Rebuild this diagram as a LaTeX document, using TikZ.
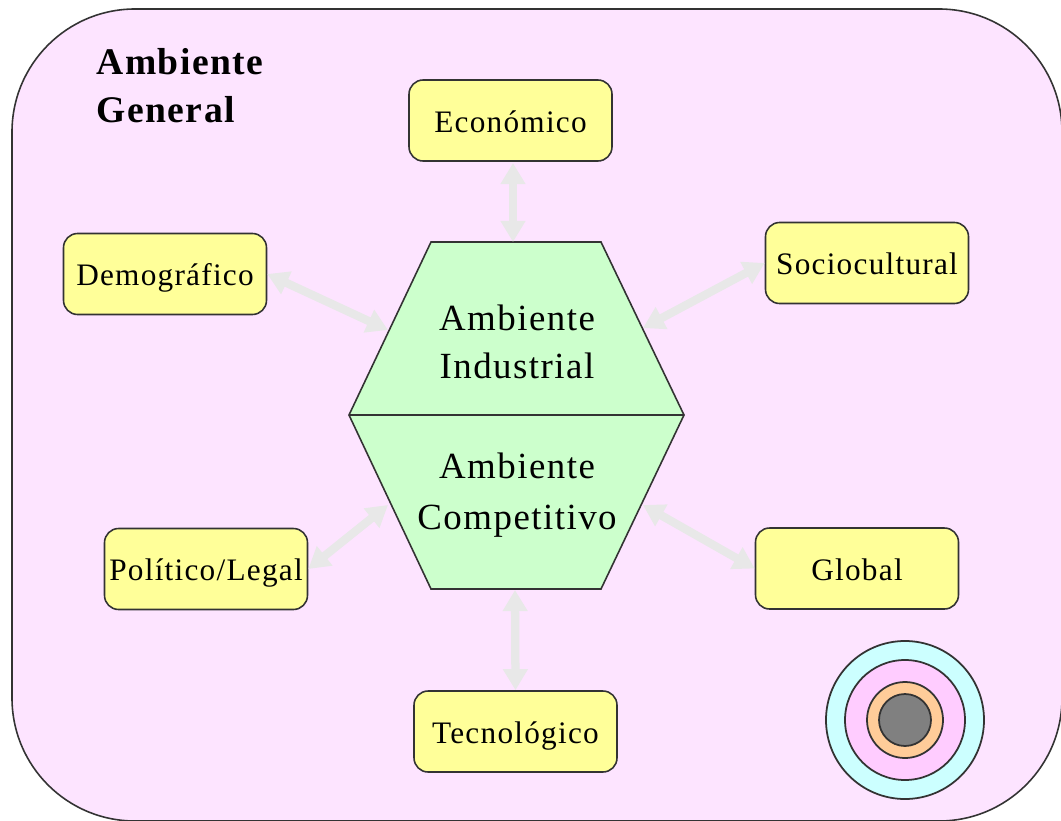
\documentclass[tikz,border=0pt]{standalone}
\usepackage{fontspec}
\setmainfont{Liberation Serif}
\newfontfamily\spacedfont[LetterSpace=4]{Liberation Serif}
\usetikzlibrary{arrows.meta}
\definecolor{fundo}{HTML}{FDE4FF}
\definecolor{amarelo}{HTML}{FFFF99}
\definecolor{verde}{HTML}{CCFFCC}
\definecolor{seta}{HTML}{E8E8E8}
\definecolor{ciano}{HTML}{CCFFFF}
\definecolor{rosa}{HTML}{FFCCFF}
\definecolor{laranja}{HTML}{FFCC99}
\definecolor{cinza}{HTML}{808080}
\definecolor{borda}{HTML}{333333}
\tikzset{
	caixa/.style={draw=borda,fill=amarelo,line width=0.9pt,rounded corners=8pt,minimum width=4.06cm,minimum height=1.62cm,inner sep=0pt,text height=17.6pt,text depth=4pt,font=\spacedfont\fontsize{17.8}{20}\selectfont},
	central/.style={inner sep=0pt,align=center,font=\spacedfont\fontsize{21}{27}\selectfont},
	titulo/.style={inner sep=0pt,align=left,font=\spacedfont\bfseries\fontsize{21.4}{27.6}\selectfont},
	ligacao/.style={draw=seta,line width=4.7pt,{Triangle[length=12pt,width=13.5pt]}-{Triangle[length=12pt,width=13.5pt]}},
	anel/.style={draw=borda,line width=1pt}
}
\begin{document}
\begin{tikzpicture}[x=0.02cm,y=-0.02cm]
	\useasboundingbox (0,0) rectangle (1061,821);
	\draw[draw=borda,fill=fundo,line width=0.9pt,rounded corners=70pt] (12,9) rectangle (1062,821);
	\node[titulo,anchor=north west] (geral) at (96,48) {Ambiente\\General};
	% hexagono
	\coordinate (hexE) at (349,415);
	\coordinate (hexD) at (684,415);
	\draw[draw=borda,fill=verde,line width=0.9pt] (hexE) -- (431,242) -- (601,242) -- (hexD) -- (601,589) -- (431,589) -- cycle;
	\draw[draw=borda,line width=0.9pt] (hexE) -- (hexD);
	\node[central] (industrial) at (517,342) {Ambiente\\Industrial};
	\node[central] (competitivo) at (517,495) {Ambiente\\[2pt]Competitivo};
	% caixas
	\node[caixa] (economico) at (510.5,120.5) {Económico};
	\node[caixa] (sociocultural) at (867,263) {Sociocultural};
	\node[caixa] (demografico) at (165,274) {Demográfico};
	\node[caixa] (politico) at (206,569) {Político/Legal};
	\node[caixa] (global) at (857,568.5) {Global};
	\node[caixa] (tecnologico) at (515.5,731.5) {Tecnológico};
	% pontos no hexagono
	\coordinate (ecoS) at (513,163);
	\coordinate (hexA) at (513,242);
	\coordinate (hexB) at (643,328);
	\coordinate (hexC) at (388,330);
	\coordinate (hexF) at (388,505);
	\coordinate (hexG) at (643,505);
	\coordinate (hexH) at (515,590);
	% setas
	\draw[ligacao] (ecoS) -- (hexA);
	\draw[ligacao] (sociocultural.west) -- (hexB);
	\draw[ligacao] (demografico.east) -- (hexC);
	\draw[ligacao] (politico.east) -- (hexF);
	\draw[ligacao] (global.west) -- (hexG);
	\draw[ligacao] (tecnologico.north) -- (hexH);
	% circulos
	\coordinate (centro) at (905,720);
	\draw[anel,fill=ciano] (centro) circle (79);
	\draw[anel,fill=rosa] (centro) circle (60);
	\draw[anel,fill=laranja] (centro) circle (38);
	\draw[anel,fill=cinza] (centro) circle (26);
\end{tikzpicture}
\end{document}
